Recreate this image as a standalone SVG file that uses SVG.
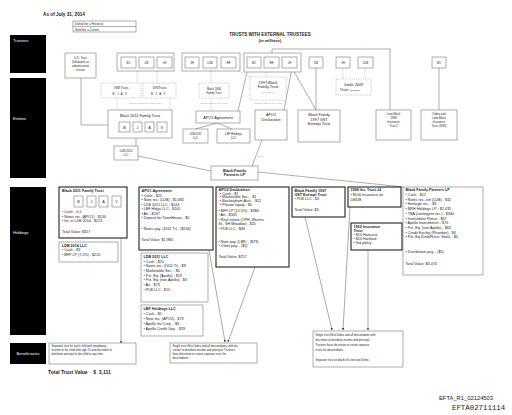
<svg xmlns="http://www.w3.org/2000/svg" width="512" height="415" viewBox="0 0 512 415">
<style>
text{font-family:"Liberation Sans",Arial,sans-serif;fill:#222}
.e{font-size:3.8px}
.h{font-size:3.7px}
.sm{font-size:2.8px}
.xs{font-size:2.2px;fill:#999}
.b{font-weight:bold}
.c{text-anchor:middle}
.w{fill:#fff;font-size:4px}
.box{fill:#fff;stroke:#777;stroke-width:0.6}
.dot{fill:#fff;stroke:#aaa;stroke-width:0.6;stroke-dasharray:1 0.8}
.thick{fill:#fff;stroke:#222;stroke-width:1.1}
.ln{stroke:#777;stroke-width:0.6;fill:none}
.dl{stroke:#aaa;stroke-width:0.6;stroke-dasharray:1 0.8;fill:none}
.ar{stroke:#555;stroke-width:0.5;fill:none;marker-end:url(#a)}
.bar{fill:#000}
</style>
<defs>
<marker id="a" viewBox="0 0 6 6" refX="5.5" refY="3" markerWidth="4" markerHeight="4" orient="auto"><path d="M0,0L6,3L0,6z" fill="#111"/></marker>
</defs>
<rect width="512" height="415" fill="#fff"/>

<!-- headings -->
<text x="43" y="16" class="b" font-size="4.7">As of July 31, 2014</text>
<g id="legend">
<rect x="73" y="21" width="63" height="11" class="box"/>
<line x1="73" y1="26.5" x2="136" y2="26.5" class="ln"/>
<text x="75" y="25.3" class="sm">Dotted line = Historical</text>
<text x="75" y="30.7" class="sm">Solid line = Current</text>
</g>
<text x="270" y="35.5" class="b c" font-size="4.5">TRUSTS WITH EXTERNAL TRUSTEES</text>
<text x="270" y="42" class="b c" font-size="4">(in millions)</text>

<!-- left bars -->
<g id="bar-trustees"><rect x="10" y="35" width="36" height="38" class="bar"/><text x="13" y="41.5" class="w">Trustees</text></g>
<g id="bar-entities"><rect x="10" y="78" width="36" height="100" class="bar"/><text x="13" y="119.5" class="w">Entities</text></g>
<g id="bar-holdings"><rect x="10" y="187" width="36" height="148" class="bar"/><text x="13" y="234" class="w">Holdings</text></g>
<g id="bar-beneficiaries"><rect x="10" y="343" width="36" height="21" class="bar"/><text x="28" y="354.5" class="w c" font-size="3.6">Beneficiaries</text></g>

<!-- connectors -->
<g id="connectors">
<polyline points="81,78 81,125 108,125" class="ln"/>
<line x1="137" y1="71" x2="137" y2="83" class="dl"/>
<line x1="157" y1="71" x2="157" y2="83" class="dl"/>
<line x1="117" y1="98" x2="117" y2="110" class="dl"/>
<line x1="170" y1="98" x2="170" y2="110" class="dl"/>
<line x1="136" y1="138" x2="136" y2="146" class="ln"/>
<line x1="138" y1="156" x2="211" y2="171" class="ln"/>
<line x1="262" y1="140" x2="252" y2="166" class="ln"/>
<line x1="258" y1="172" x2="404" y2="187" class="ln"/>
<line x1="247" y1="72" x2="238" y2="111" class="ln"/>
<line x1="292" y1="68" x2="284" y2="110" class="ln"/>
<line x1="292" y1="68" x2="316" y2="110" class="ln"/>
<line x1="316" y1="68" x2="316" y2="110" class="ln"/>
<polyline points="272,53 272,49 390,49 390,110" class="ln"/>
<line x1="439" y1="68" x2="439" y2="110" class="ln"/>
<line x1="343" y1="68" x2="343" y2="79" class="dl"/>
<line x1="365" y1="68" x2="365" y2="79" class="dl"/>
<line x1="211" y1="71" x2="211" y2="83" class="dl"/>
<line x1="211" y1="98" x2="211" y2="111" class="dl"/>
<line x1="238" y1="71" x2="252" y2="78" class="dl"/>
<line x1="266" y1="72" x2="266" y2="77" class="dl"/>
<line x1="217" y1="123" x2="195" y2="129" class="ln"/>
<line x1="217" y1="123" x2="232" y2="129" class="ln"/>
<text x="178" y="165" class="xs" fill="#777">7.2%</text>
<text x="258" y="156.5" class="xs" fill="#777">12.5%</text>
<line x1="121" y1="238" x2="121" y2="343" class="ar"/>
<line x1="209" y1="250" x2="225" y2="342" class="ar"/>
<line x1="255" y1="267" x2="228" y2="342" class="ar"/>
<line x1="305" y1="217" x2="332" y2="330" class="ar"/>
<line x1="350" y1="207" x2="343" y2="330" class="ar"/>
<line x1="368" y1="250" x2="368" y2="330" class="ar"/>
</g>

<!-- trustees -->
<g id="us-trust"><rect x="65" y="53" width="31" height="25" class="box"/>
<text class="sm c" x="80.5" y="58.5">U.S. Trust</text><text class="sm c" x="80.5" y="62.5">(Delaware) as</text><text class="sm c" x="80.5" y="66.5">administrative</text><text class="sm c" x="80.5" y="70.5">trustee</text></g>
<g id="trustees-bc-db-jh"><rect x="117" y="53" width="57" height="18" class="box"/>
<rect x="121" y="57" width="15" height="11" class="box"/><text x="128.5" y="63.8" class="sm c">BC</text>
<rect x="139" y="57" width="15" height="11" class="box"/><text x="146.5" y="63.8" class="sm c">DB</text>
<rect x="157" y="57" width="15" height="11" class="box"/><text x="164.5" y="63.8" class="sm c">JH</text></g>
<g id="trustees-jh-ldb-rr"><rect x="182" y="53" width="58" height="18" class="box"/>
<rect x="185" y="57" width="14" height="11" class="box"/><text x="192" y="63.8" class="sm c">JH</text>
<rect x="203" y="57" width="14" height="11" class="box"/><text x="210" y="63.8" class="sm c">LDB</text>
<rect x="221" y="57" width="15" height="11" class="box"/><text x="228.5" y="63.8" class="sm c">RR</text></g>
<g id="trustees-bc-rr-jh"><rect x="244" y="53" width="57" height="19" class="box"/>
<rect x="247" y="57" width="14" height="11" class="box"/><text x="254" y="63.8" class="sm c">BC</text>
<rect x="264" y="57" width="15" height="11" class="box"/><text x="271.5" y="63.8" class="sm c">RR</text>
<rect x="282" y="57" width="15" height="11" class="box"/><text x="289.5" y="63.8" class="sm c">JH</text></g>
<g id="trustee-db"><rect x="309" y="57" width="14" height="11" class="box"/><text x="316" y="63.8" class="sm c">DB</text></g>
<g id="trustee-jh"><rect x="336" y="57" width="14" height="11" class="box"/><text x="343" y="63.8" class="sm c">JH</text></g>
<g id="trustee-ldb"><rect x="358" y="57" width="15" height="11" class="box"/><text x="365.5" y="63.8" class="sm c">LDB</text></g>
<g id="trustee-bc"><rect x="432" y="57" width="14" height="11" class="box"/><text x="439" y="63.8" class="sm c">BC</text></g>

<!-- entities -->
<g id="trusts-1988"><rect x="101" y="83" width="40" height="15" class="dot"/>
<text x="121" y="89" class="sm c">1988 Trusts</text><text x="121" y="95" class="sm c" letter-spacing="2.5">BJAV</text></g>
<g id="trusts-1992"><rect x="143" y="83" width="33" height="15" class="dot"/>
<text x="159.5" y="89" class="sm c">1992Trusts</text><text x="159.5" y="95" class="sm c" letter-spacing="2.5">BJAV</text></g>
<text x="145" y="103.5" class="xs c">(assets decanted into 2011 Trust)</text>
<g id="black-2006"><rect x="199" y="83" width="30" height="15" class="dot"/>
<text x="214" y="89.5" class="sm c">Black 2006</text><text x="214" y="93.5" class="sm c">Family Trust</text></g>
<text x="214" y="103.5" class="xs c">(assets decanted into APO1)</text>
<g id="black-1997-family-trust"><rect x="250" y="77" width="36" height="23" class="dot"/>
<text x="268" y="83.5" class="e c">1997 Black</text><text x="268" y="88" class="e c">Family Trust</text><text x="268" y="92.5" class="xs c" fill="#444">(fka LDB Inv)</text></g>
<text x="268" y="103.5" class="xs c">(assets decanted into APO2)</text>
<g id="juliah-2009"><rect x="336" y="79" width="35" height="16" class="dot"/>
<text x="353.5" y="85.5" class="e c">Juliah 2009</text><text x="350" y="90.5" class="e c">Trust <tspan font-size="2px">(terminated)</tspan></text></g>

<g id="black-2011-entity"><rect x="108" y="110" width="64" height="28" class="box"/>
<text x="140" y="116.5" class="e c">Black 2011 Family Trust</text>
<rect x="119" y="122" width="11" height="10" class="box"/><text x="124.5" y="128.5" class="e c">B</text>
<rect x="133" y="122" width="9" height="10" class="box"/><text x="137.5" y="128.5" class="e c">J</text>
<rect x="145" y="122" width="9" height="10" class="box"/><text x="149.5" y="128.5" class="e c">A</text>
<rect x="157" y="122" width="10" height="10" class="box"/><text x="162" y="128.5" class="e c">V</text></g>
<g id="apo1-entity"><rect x="196" y="111" width="44" height="12" class="box"/><text x="218" y="118.5" class="e c">APO1 Agreement</text></g>
<g id="ldb-2011-entity"><rect x="183" y="129" width="25" height="14" class="box"/><text x="195.5" y="134.5" class="sm c">LDB 2011</text><text x="195.5" y="139" class="sm c">LLC</text></g>
<g id="lbf-holdings-entity"><rect x="217" y="129" width="33" height="14" class="box"/><text x="233.5" y="134.5" class="sm c">LBF Holdings</text><text x="233.5" y="139" class="sm c">LLC</text></g>
<g id="apo2-entity"><rect x="255" y="110" width="32" height="30" class="box"/><text x="271" y="116" class="e c">APO2</text><text x="271" y="120.5" class="e c">Declaration</text></g>
<g id="bf-1997-gst-entity"><rect x="298" y="110" width="42" height="32" class="box"/><text x="319" y="116" class="e c">Black Family</text><text x="319" y="120.5" class="e c">1997 GST</text><text x="319" y="125" class="e c">Exempt Trust</text></g>
<g id="leon-black-1998"><rect x="376" y="110" width="35" height="30" class="box"/><text x="393.5" y="115" class="sm c">Leon Black</text><text x="393.5" y="119" class="sm c">1998</text><text x="393.5" y="123" class="sm c">Insurance</text><text x="393.5" y="127" class="sm c">Trust 2</text></g>
<g id="debra-leon-1992"><rect x="421" y="110" width="36" height="30" class="box"/><text x="439" y="115" class="sm c">Debra and</text><text x="439" y="119" class="sm c">Leon Black</text><text x="439" y="123" class="sm c">Insurance</text><text x="439" y="127" class="sm c">Trust (1992)</text></g>
<g id="ldb-2014-entity"><rect x="114" y="146" width="24" height="14" class="box"/><text x="126" y="151.5" class="sm c">LDB 2014</text><text x="126" y="156" class="sm c">LLC</text></g>
<g id="bfp-entity"><rect x="211" y="166" width="47" height="14" class="box"/><text x="234.5" y="171.8" class="e c b">Black Family</text><text x="234.5" y="176.3" class="e c b">Partners LP</text></g>

<!-- holdings -->
<g id="black-2011-holdings"><rect x="59" y="187" width="68" height="51" class="thick"/>
<text x="62" y="192" class="h b">Black 2011 Family Trust</text>
<rect x="74" y="196" width="9" height="11" class="box"/><text x="78.5" y="203" class="h c">B</text>
<rect x="87" y="196" width="9" height="11" class="box"/><text x="91.5" y="203" class="h c">J</text>
<rect x="99" y="196" width="9" height="11" class="box"/><text x="103.5" y="203" class="h c">A</text>
<rect x="112" y="196" width="9" height="11" class="box"/><text x="116.5" y="203" class="h c">V</text>
<text x="62" y="213" class="h">• Cash - 0.1</text>
<text x="62" y="217.5" class="h">• Notes rec. (APO1) - $134</text>
<text x="62" y="222" class="h">• Int. in LDB 2014 - $223</text>
<text x="62" y="232.5" class="h">Total Value: $357</text></g>
<g id="ldb-2014-holdings"><rect x="59" y="242" width="59" height="20" class="box"/>
<text x="62" y="246.8" class="h b">LDB 2014 LLC</text>
<text x="62" y="251.3" class="h">• Cash - $3</text>
<text x="62" y="255.8" class="h">• BFP LP (7.2%) - $220</text></g>

<g id="apo1-holdings"><rect x="139" y="187" width="74" height="63" class="thick"/>
<text x="141.5" y="191.8" class="h b">APO1 Agreement</text>
<text x="141.5" y="196.5" class="h">• Cash - $25</text>
<text x="141.5" y="201" class="h">• Note rec. (LDB) - $1,682</text>
<text x="141.5" y="205.5" class="h">• LDB 2011 LLC - $144</text>
<text x="141.5" y="210" class="h">• LBF Hldgs LLC - $105</text>
<text x="141.5" y="214.5" class="h">• Art - $167</text>
<text x="141.5" y="219" class="h">• Deposit for TownHouse - $0</text>
<text x="141.5" y="230" class="h">• Notes pay. (2011 Tr) - ($134)</text>
<text x="141.5" y="240.5" class="h">Total Value: $1,984</text></g>
<g id="ldb-2011-holdings"><rect x="141" y="253" width="67" height="49" class="box"/>
<text x="143.5" y="257.8" class="h b">LDB 2011 LLC</text>
<text x="143.5" y="262.5" class="h">• Cash - $25</text>
<text x="143.5" y="267.2" class="h">• Notes rec. (2011 Tr) - $9</text>
<text x="143.5" y="271.9" class="h">• Marketable Sec. - $5</text>
<text x="143.5" y="276.6" class="h">• Pvt. Eq. (Apollo) - $19</text>
<text x="143.5" y="281.3" class="h">• Pvt. Eq. (non Apollo) - $3</text>
<text x="143.5" y="286" class="h">• Art - $73</text>
<text x="143.5" y="290.7" class="h">• PLB LLC - $15</text></g>
<g id="lbf-holdings"><rect x="141" y="305" width="62" height="31" class="box"/>
<text x="143.5" y="310" class="h b">LBF Holdings LLC</text>
<text x="143.5" y="315" class="h">• Cash - $1</text>
<text x="143.5" y="320" class="h">• Note rec. (APO2) - $79</text>
<text x="143.5" y="325" class="h">• Apollo Inv Corp. - $6</text>
<text x="143.5" y="330" class="h">• Apollo Credit Opp. - $19</text></g>

<g id="apo2-holdings"><rect x="216" y="187" width="73" height="80" class="thick"/>
<text x="218.5" y="190.8" class="h b">APO2 Declaration</text>
<text x="220" y="194.6" class="h">▪ Cash - $7</text>
<text x="220" y="198.4" class="h">▪ Marketable Sec. - $1</text>
<text x="220" y="202.2" class="h">▪ Buckingham Asst. - $12</text>
<text x="220" y="206" class="h">▪ Private equity - $5</text>
<text x="218.5" y="212" class="h">• BFP LP (12.5%) - $384</text>
<text x="218.5" y="216.4" class="h">• Art - $305</text>
<text x="218.5" y="220.8" class="h">• Real estate (OPH, Warren</text>
<text x="218.5" y="225.2" class="h">St., SH Meadow) - $20</text>
<text x="218.5" y="229.6" class="h">• PLB LLC - $84</text>
<text x="218.5" y="243" class="h">• Note pay. (LBF) - ($79)</text>
<text x="218.5" y="247.4" class="h">• Other pay. - ($1)</text>
<text x="218.5" y="258" class="h">Total Value: $757</text></g>

<g id="bf-1997-gst-holdings"><rect x="292" y="187" width="53" height="30" class="thick"/>
<text x="294.5" y="191.5" class="h b">Black Family 1997</text>
<text x="294.5" y="195.8" class="h b">GST Exempt Trust</text>
<text x="294.5" y="200.3" class="h">• PLB LLC - $3</text>
<text x="294.5" y="210.5" class="h">Total Value: $3</text></g>
<g id="ins-1998-holdings"><rect x="348" y="187" width="53" height="20" class="thick"/>
<text x="350.5" y="191.3" class="h b">1998 Ins. Trust #2</text>
<text x="350.5" y="196" class="h">• $100 insurance on</text>
<text x="350.5" y="200.5" class="h">LB/DB</text></g>
<g id="ins-1992-holdings"><rect x="351" y="223" width="51" height="27" class="thick"/>
<text x="353.5" y="227.5" class="h b">1992 Insurance</text>
<text x="353.5" y="231.6" class="h b">Trust</text>
<text x="353.5" y="235.9" class="h">• $10 Hancock</text>
<text x="353.5" y="240.1" class="h">• $10 Hartford</text>
<text x="353.5" y="244.4" class="h">• 3rd policy</text></g>

<g id="bfp-holdings"><rect x="403" y="187" width="80" height="88" class="box"/>
<text x="405.5" y="191" class="h b">Black Family Partners LP</text>
<text x="405.5" y="196" class="h">• Cash - $12</text>
<text x="405.5" y="200.7" class="h">• Notes rec.-net (LDB) - $32</text>
<text x="405.5" y="205.4" class="h">• Heritage rec. - $3</text>
<text x="405.5" y="210.1" class="h">• BRH Holdings LP - $2,435</text>
<text x="405.5" y="214.8" class="h">• TBA (contingent rec.) - $344</text>
<text x="405.5" y="219.5" class="h">• Investment Pimco - $67</text>
<text x="405.5" y="224.2" class="h">• Apollo Investments - $76</text>
<text x="405.5" y="228.9" class="h">• Pvt. Eq. (non Apollo) - $63</text>
<text x="405.5" y="233.6" class="h">• Credit Facility (Phaedon) - $4</text>
<text x="405.5" y="238.3" class="h">• Pvt. Eq./Debt/Restr. Stock - $0</text>
<text x="405.5" y="253" class="h">• Distribution pay. - ($5)</text>
<text x="405.5" y="265" class="h">Total Value: $3,074</text></g>

<!-- beneficiaries -->
<g id="ben-children"><rect x="49" y="343" width="87" height="21" class="box"/>
<text x="51.5" y="346.5" class="sm">Separate trust for each child with mandatory</text>
<text x="51.5" y="350.5" class="sm">income to the child after age 21 and discretion to</text>
<text x="51.5" y="354.5" class="sm">distribute principal to the child at any time.</text></g>
<g id="ben-debra-1"><rect x="170" y="343" width="87" height="20" class="box"/>
<text x="172.5" y="346.5" class="sm">Single trust f/b/o Debra and all descendants, with dis-</text>
<text x="172.5" y="350.5" class="sm">cretion to distribute income and principal. Trustees</text>
<text x="172.5" y="354.5" class="sm">have discretion to create separate trusts for</text>
<text x="172.5" y="358.5" class="sm">descendants.</text></g>
<g id="ben-debra-2"><rect x="313" y="331" width="90" height="36" class="box"/>
<text x="315.5" y="335.5" class="sm">Single trust f/b/o Debra and all descendants with</text>
<text x="315.5" y="340.5" class="sm">discretion to distribute income and principal.</text>
<text x="315.5" y="345.5" class="sm">Trustees have discretion to create separate</text>
<text x="315.5" y="350.5" class="sm">trusts for descendants.</text>
<text x="315.5" y="360.5" class="sm">Separate trust on death of Leon and Debra</text></g>

<text x="48" y="374" class="b" font-size="5" xml:space="preserve">Total Trust Value    $  3,111</text>
<text x="439" y="400" font-size="5.8">EFTA_R1_02124503</text>
<text x="452" y="410" style="font-family:'Liberation Mono',monospace" font-size="7.4">EFTA02711114</text>
</svg>
